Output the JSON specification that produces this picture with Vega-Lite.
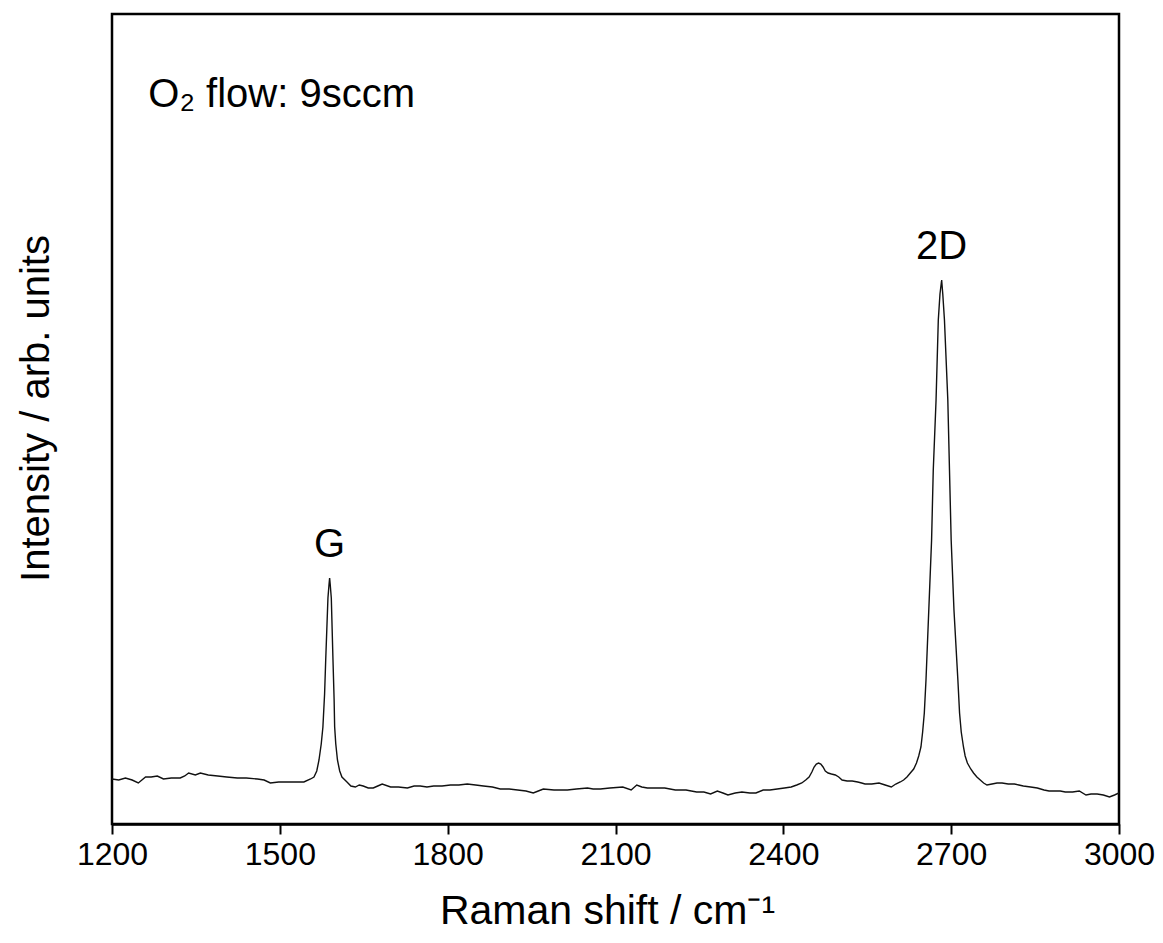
{
  "$schema": "https://vega.github.io/schema/vega-lite/v6.json",
  "autosize": "none",
  "width": 1007,
  "height": 810,
  "padding": {"left": 112, "top": 14, "right": 44, "bottom": 119},
  "background": "white",
  "config": {
    "font": "Liberation Sans",
    "view": {"stroke": "black", "strokeWidth": 2.5},
    "axis": {"grid": false}
  },
  "datasets": {
    "spectrum": [
      {"shift": 1200, "intensity": 45}, {"shift": 1212, "intensity": 44}, {"shift": 1224, "intensity": 46}, {"shift": 1236, "intensity": 44},
      {"shift": 1247, "intensity": 41}, {"shift": 1260, "intensity": 47}, {"shift": 1270, "intensity": 47}, {"shift": 1281, "intensity": 48},
      {"shift": 1292, "intensity": 45}, {"shift": 1306, "intensity": 46}, {"shift": 1322, "intensity": 46}, {"shift": 1330, "intensity": 48},
      {"shift": 1337, "intensity": 51}, {"shift": 1349, "intensity": 49}, {"shift": 1358, "intensity": 51}, {"shift": 1372, "intensity": 49},
      {"shift": 1389, "intensity": 48}, {"shift": 1405, "intensity": 47}, {"shift": 1424, "intensity": 46}, {"shift": 1440, "intensity": 46},
      {"shift": 1460, "intensity": 45}, {"shift": 1472, "intensity": 44}, {"shift": 1483, "intensity": 41}, {"shift": 1498, "intensity": 42},
      {"shift": 1514, "intensity": 42}, {"shift": 1528, "intensity": 42}, {"shift": 1543, "intensity": 42}, {"shift": 1555, "intensity": 45},
      {"shift": 1561, "intensity": 47}, {"shift": 1566, "intensity": 53}, {"shift": 1570, "intensity": 64}, {"shift": 1574, "intensity": 80},
      {"shift": 1577, "intensity": 97}, {"shift": 1580, "intensity": 130}, {"shift": 1582, "intensity": 164}, {"shift": 1584, "intensity": 195},
      {"shift": 1586, "intensity": 226}, {"shift": 1588, "intensity": 240}, {"shift": 1589, "intensity": 246}, {"shift": 1590, "intensity": 240},
      {"shift": 1592, "intensity": 226}, {"shift": 1595, "intensity": 164}, {"shift": 1597, "intensity": 125}, {"shift": 1598, "intensity": 97},
      {"shift": 1600, "intensity": 80}, {"shift": 1603, "intensity": 64}, {"shift": 1607, "intensity": 53}, {"shift": 1611, "intensity": 47},
      {"shift": 1620, "intensity": 42}, {"shift": 1627, "intensity": 38}, {"shift": 1635, "intensity": 37}, {"shift": 1642, "intensity": 39},
      {"shift": 1649, "intensity": 38}, {"shift": 1658, "intensity": 36}, {"shift": 1667, "intensity": 36}, {"shift": 1675, "intensity": 38},
      {"shift": 1683, "intensity": 40}, {"shift": 1698, "intensity": 37}, {"shift": 1712, "intensity": 37}, {"shift": 1728, "intensity": 36},
      {"shift": 1740, "intensity": 38}, {"shift": 1751, "intensity": 38}, {"shift": 1763, "intensity": 37}, {"shift": 1775, "intensity": 38},
      {"shift": 1790, "intensity": 38}, {"shift": 1805, "intensity": 39}, {"shift": 1820, "intensity": 39}, {"shift": 1835, "intensity": 40},
      {"shift": 1850, "intensity": 39}, {"shift": 1864, "intensity": 38}, {"shift": 1880, "intensity": 37}, {"shift": 1894, "intensity": 35},
      {"shift": 1910, "intensity": 35}, {"shift": 1925, "intensity": 34}, {"shift": 1940, "intensity": 33}, {"shift": 1953, "intensity": 31},
      {"shift": 1962, "intensity": 33}, {"shift": 1971, "intensity": 35}, {"shift": 1990, "intensity": 34}, {"shift": 2014, "intensity": 34},
      {"shift": 2030, "intensity": 35}, {"shift": 2050, "intensity": 36}, {"shift": 2060, "intensity": 35}, {"shift": 2073, "intensity": 35},
      {"shift": 2090, "intensity": 36}, {"shift": 2113, "intensity": 37}, {"shift": 2128, "intensity": 34}, {"shift": 2138, "intensity": 39},
      {"shift": 2147, "intensity": 37}, {"shift": 2157, "intensity": 36}, {"shift": 2170, "intensity": 36}, {"shift": 2188, "intensity": 36},
      {"shift": 2207, "intensity": 34}, {"shift": 2226, "intensity": 34}, {"shift": 2245, "intensity": 32}, {"shift": 2258, "intensity": 32},
      {"shift": 2270, "intensity": 30}, {"shift": 2282, "intensity": 33}, {"shift": 2292, "intensity": 31}, {"shift": 2301, "intensity": 29},
      {"shift": 2314, "intensity": 31}, {"shift": 2326, "intensity": 32}, {"shift": 2340, "intensity": 31}, {"shift": 2351, "intensity": 31},
      {"shift": 2364, "intensity": 34}, {"shift": 2376, "intensity": 34}, {"shift": 2389, "intensity": 35}, {"shift": 2402, "intensity": 36},
      {"shift": 2414, "intensity": 37}, {"shift": 2424, "intensity": 39}, {"shift": 2433, "intensity": 41}, {"shift": 2440, "intensity": 44},
      {"shift": 2446, "intensity": 47}, {"shift": 2451, "intensity": 52}, {"shift": 2455, "intensity": 57}, {"shift": 2459, "intensity": 60},
      {"shift": 2463, "intensity": 61}, {"shift": 2467, "intensity": 60}, {"shift": 2471, "intensity": 57}, {"shift": 2475, "intensity": 53},
      {"shift": 2480, "intensity": 51}, {"shift": 2486, "intensity": 50}, {"shift": 2493, "intensity": 49}, {"shift": 2499, "intensity": 47},
      {"shift": 2505, "intensity": 44}, {"shift": 2514, "intensity": 43}, {"shift": 2523, "intensity": 43}, {"shift": 2533, "intensity": 42},
      {"shift": 2540, "intensity": 41}, {"shift": 2546, "intensity": 40}, {"shift": 2558, "intensity": 40}, {"shift": 2571, "intensity": 41},
      {"shift": 2582, "intensity": 39}, {"shift": 2593, "intensity": 37}, {"shift": 2601, "intensity": 40}, {"shift": 2609, "intensity": 42},
      {"shift": 2615, "intensity": 44}, {"shift": 2621, "intensity": 47}, {"shift": 2627, "intensity": 51}, {"shift": 2633, "intensity": 55},
      {"shift": 2638, "intensity": 61}, {"shift": 2642, "intensity": 68}, {"shift": 2646, "intensity": 77}, {"shift": 2649, "intensity": 92},
      {"shift": 2652, "intensity": 111}, {"shift": 2655, "intensity": 144}, {"shift": 2660, "intensity": 214}, {"shift": 2665, "intensity": 284},
      {"shift": 2668, "intensity": 354}, {"shift": 2673, "intensity": 424}, {"shift": 2677, "intensity": 504}, {"shift": 2680, "intensity": 530},
      {"shift": 2683, "intensity": 544}, {"shift": 2685, "intensity": 530}, {"shift": 2688, "intensity": 504}, {"shift": 2694, "intensity": 424},
      {"shift": 2697, "intensity": 354}, {"shift": 2700, "intensity": 284}, {"shift": 2705, "intensity": 214}, {"shift": 2712, "intensity": 144},
      {"shift": 2715, "intensity": 111}, {"shift": 2718, "intensity": 92}, {"shift": 2722, "intensity": 77}, {"shift": 2725, "intensity": 68},
      {"shift": 2729, "intensity": 61}, {"shift": 2735, "intensity": 55}, {"shift": 2740, "intensity": 51}, {"shift": 2746, "intensity": 47},
      {"shift": 2752, "intensity": 44}, {"shift": 2758, "intensity": 41}, {"shift": 2764, "intensity": 39}, {"shift": 2773, "intensity": 40},
      {"shift": 2782, "intensity": 41}, {"shift": 2791, "intensity": 41}, {"shift": 2802, "intensity": 40}, {"shift": 2813, "intensity": 40},
      {"shift": 2821, "intensity": 39}, {"shift": 2829, "intensity": 38}, {"shift": 2842, "intensity": 37}, {"shift": 2854, "intensity": 36},
      {"shift": 2866, "intensity": 34}, {"shift": 2875, "intensity": 33}, {"shift": 2885, "intensity": 33}, {"shift": 2895, "intensity": 33},
      {"shift": 2904, "intensity": 32}, {"shift": 2917, "intensity": 32}, {"shift": 2929, "intensity": 33}, {"shift": 2941, "intensity": 29},
      {"shift": 2950, "intensity": 30}, {"shift": 2961, "intensity": 30}, {"shift": 2972, "intensity": 29}, {"shift": 2983, "intensity": 27},
      {"shift": 2992, "intensity": 29}, {"shift": 3000, "intensity": 31}
    ],
    "peaks": [
      {"band": "G", "shift": 1589, "intensity": 246},
      {"band": "2D", "shift": 2683, "intensity": 544}
    ],
    "note": [
      {"label": "O₂ flow: 9sccm", "shift": 1265, "intensity": 729}
    ]
  },
  "layer": [
    {
      "data": {"name": "spectrum"},
      "mark": {"type": "line", "color": "#111111", "strokeWidth": 1.4, "clip": true},
      "encoding": {
        "x": {
          "field": "shift",
          "type": "quantitative",
          "scale": {"domain": [1200, 3000], "nice": false, "zero": false},
          "axis": {
            "values": [1200, 1500, 1800, 2100, 2400, 2700, 3000],
            "format": "d",
            "title": "Raman shift / cm⁻¹",
            "titleFontSize": 41,
            "titleFontWeight": "normal",
            "titleColor": "black",
            "titlePadding": 21,
            "titleX": 495,
            "labelFontSize": 32,
            "labelColor": "black",
            "labelPadding": 5,
            "labelFlush": false,
            "domainColor": "black",
            "domainWidth": 2.5,
            "tickColor": "black",
            "tickWidth": 2,
            "tickSize": 10
          }
        },
        "y": {
          "field": "intensity",
          "type": "quantitative",
          "scale": {"domain": [0, 810], "nice": false},
          "axis": {
            "title": "Intensity / arb. units",
            "titleFontSize": 40,
            "titleFontWeight": "normal",
            "titleColor": "black",
            "titlePadding": 56,
            "titleY": 394,
            "labels": false,
            "ticks": false,
            "domain": false
          }
        }
      }
    },
    {
      "data": {"name": "peaks"},
      "mark": {"type": "text", "fontSize": 40, "color": "black", "baseline": "middle", "align": "center", "dy": -33},
      "encoding": {
        "x": {"field": "shift", "type": "quantitative"},
        "y": {"field": "intensity", "type": "quantitative"},
        "text": {"field": "band"}
      }
    },
    {
      "data": {"name": "note"},
      "mark": {"type": "text", "fontSize": 40, "color": "black", "baseline": "middle", "align": "left"},
      "encoding": {
        "x": {"field": "shift", "type": "quantitative"},
        "y": {"field": "intensity", "type": "quantitative"},
        "text": {"field": "label"}
      }
    }
  ]
}
